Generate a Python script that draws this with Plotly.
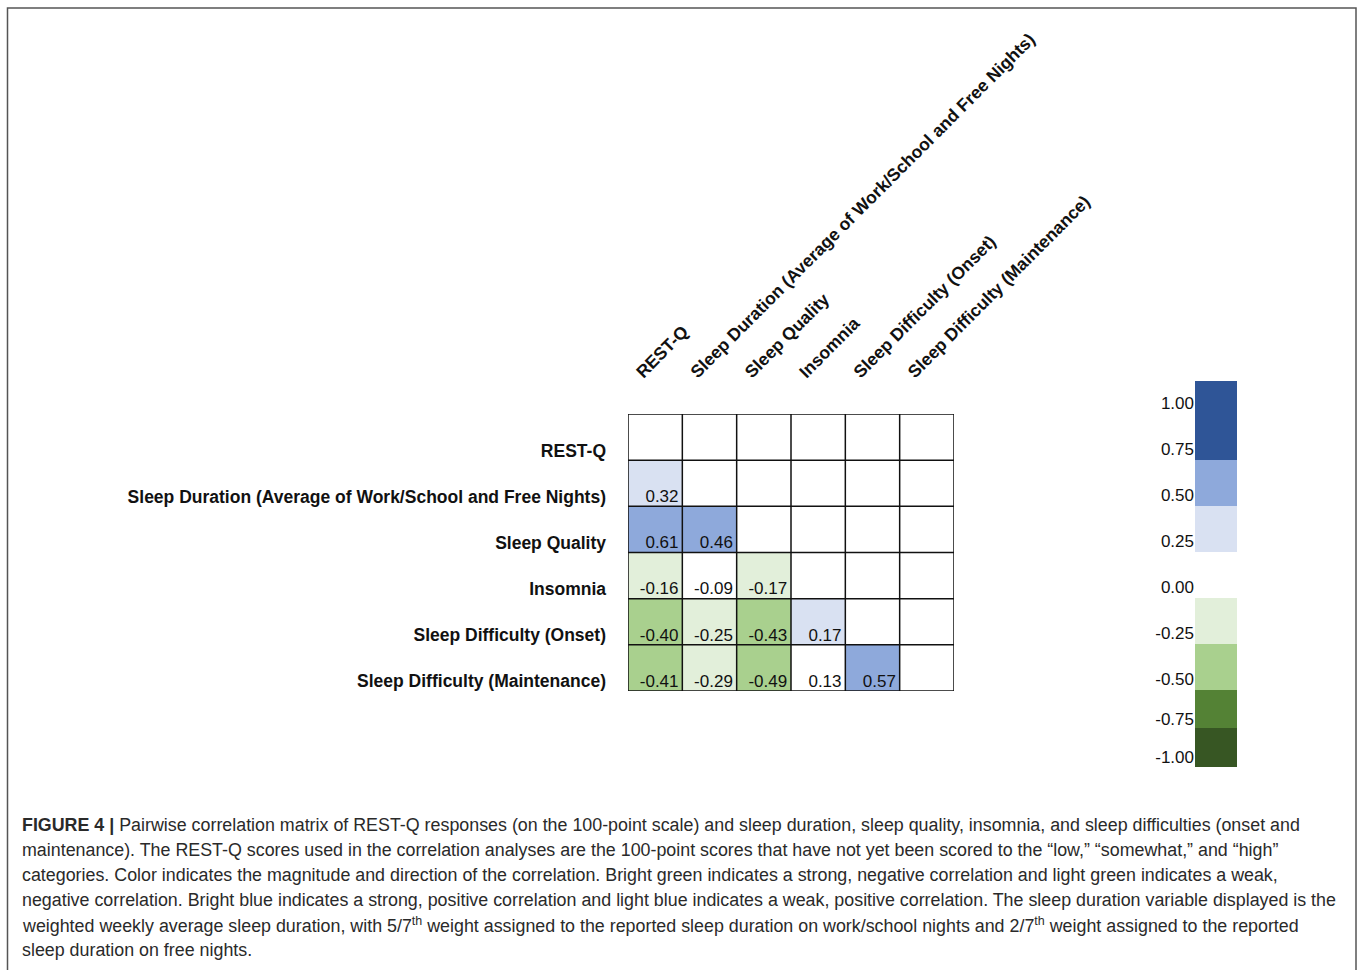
import plotly.graph_objects as go

W, H = 1360, 970

variables = [
    "REST-Q",
    "Sleep Duration (Average of Work/School and Free Nights)",
    "Sleep Quality",
    "Insomnia",
    "Sleep Difficulty (Onset)",
    "Sleep Difficulty (Maintenance)",
]
corr_lower = [
    [],
    [0.32],
    [0.61, 0.46],
    [-0.16, -0.09, -0.17],
    [-0.40, -0.25, -0.43, 0.17],
    [-0.41, -0.29, -0.49, 0.13, 0.57],
]
bin_edges = [-1.0, -0.85, -0.70, -0.35, -0.15, 0.15, 0.40, 0.70, 1.0]
bin_colors = ["#375623", "#548235", "#A9D08E", "#E2EFDA", "#FFFFFF", "#D9E1F2", "#8EA9DB", "#2F5597"]

legend_values = [0.875, 0.55, 0.3, 0.0, -0.25, -0.5, -0.78, -0.93]
legend_edges = [1.12, 0.69, 0.44, 0.19, -0.06, -0.31, -0.56, -0.77, -0.98]
legend_tick_labels = ["1.00", "0.75", "0.50", "0.25", "0.00", "-0.25", "-0.50", "-0.75", "-1.00"]
legend_tick_pos = [1.0, 0.75, 0.5, 0.25, 0.0, -0.25, -0.5, -0.717, -0.924]

caption_lines = [
    "<b>FIGURE 4 |</b> Pairwise correlation matrix of REST-Q responses (on the 100-point scale) and sleep duration, sleep quality, insomnia, and sleep difficulties (onset and",
    "maintenance). The REST-Q scores used in the correlation analyses are the 100-point scores that have not yet been scored to the \u201clow,\u201d \u201csomewhat,\u201d and \u201chigh\u201d",
    "categories. Color indicates the magnitude and direction of the correlation. Bright green indicates a strong, negative correlation and light green indicates a weak,",
    "negative correlation. Bright blue indicates a strong, positive correlation and light blue indicates a weak, positive correlation. The sleep duration variable displayed is the",
    "weighted weekly average sleep duration, with 5/7<sup>th</sup> weight assigned to the reported sleep duration on work/school nights and 2/7<sup>th</sup> weight assigned to the reported",
    "sleep duration on free nights.",
]

# discrete colorscale
cs = []
for k, c in enumerate(bin_colors):
    cs.append([(bin_edges[k] + 1) / 2, c])
    cs.append([(bin_edges[k + 1] + 1) / 2, c])

n = len(variables)
z = [[None] * n for _ in range(n)]
tx, ty, tt = [], [], []
for i, row in enumerate(corr_lower):
    for j, v in enumerate(row):
        z[i][j] = v
        tx.append(j + 0.43)
        ty.append(i + 0.5)
        tt.append(f"{v:.2f}")

def px_x(p):
    return p / W

def px_y(p):
    return 1 - p / H

FONT = "Liberation Sans, Arial, Helvetica, sans-serif"

fig = go.Figure()
fig.add_trace(go.Heatmap(
    z=z, x=list(range(n)), y=list(range(n)),
    colorscale=cs, zmin=-1, zmax=1, showscale=False, hoverongaps=False,
    xaxis="x", yaxis="y",
))
fig.add_trace(go.Scatter(
    x=tx, y=ty, text=tt, mode="text", textposition="top left",
    textfont=dict(size=17, color="#111111", family=FONT),
    xaxis="x", yaxis="y", showlegend=False, hoverinfo="skip",
))
fig.add_trace(go.Heatmap(
    z=[[v] for v in legend_values], x=[0, 1], y=legend_edges,
    colorscale=cs, zmin=-1, zmax=1, showscale=False,
    xaxis="x2", yaxis="y2",
))

shapes = []
for k in range(n + 1):
    shapes.append(dict(type="line", xref="x", yref="y", x0=k - 0.5, x1=k - 0.5, y0=-0.5, y1=n - 0.5,
                       line=dict(color="#111111", width=1.5)))
    shapes.append(dict(type="line", xref="x", yref="y", y0=k - 0.5, y1=k - 0.5, x0=-0.5, x1=n - 0.5,
                       line=dict(color="#111111", width=1.5)))
shapes.append(dict(type="rect", xref="paper", yref="paper", x0=px_x(7.5), x1=px_x(1356), y0=-0.02, y1=px_y(8),
                   line=dict(color="#555555", width=1.5)))

annotations = []
for k, line in enumerate(caption_lines):
    annotations.append(dict(
        xref="paper", yref="paper", x=px_x(20), y=px_y(825 + 25 * k), xanchor="left", yanchor="middle",
        text=line, showarrow=False, align="left",
        font=dict(size=17.85, color="#2a2a2a", family=FONT),
    ))

fig.update_layout(
    width=W, height=H, margin=dict(l=0, r=0, t=0, b=0, autoexpand=False),
    paper_bgcolor="white", plot_bgcolor="white",
    font=dict(family=FONT, color="#111111"),
    showlegend=False,
    xaxis=dict(domain=[px_x(628), px_x(954)], range=[-0.5, n - 0.5], side="top",
               tickvals=[i - 0.33 for i in range(n)], ticktext=[f"<b>{v}</b>" for v in variables],
               tickangle=-45, ticks="", showgrid=False, zeroline=False, showline=False, automargin=False,
               ticklabelstandoff=28,
               tickfont=dict(size=17.5, family=FONT, color="#111111"), anchor="y"),
    yaxis=dict(domain=[px_y(691), px_y(414)], range=[n - 0.5, -0.5],
               tickvals=[i + 0.29 for i in range(n)], ticktext=[f"<b>{v}</b>" for v in variables],
               ticks="", showgrid=False, zeroline=False, showline=False, ticklabelstandoff=21, automargin=False,
               tickfont=dict(size=17.5, family=FONT, color="#111111"), anchor="x"),
    xaxis2=dict(domain=[px_x(1195), px_x(1237)], range=[0, 1], visible=False, anchor="y2", automargin=False),
    yaxis2=dict(domain=[px_y(767), px_y(381)], range=[legend_edges[-1], legend_edges[0]],
                tickvals=legend_tick_pos, ticktext=legend_tick_labels, ticks="", automargin=False,
                showgrid=False, zeroline=False, showline=False, anchor="x2",
                tickfont=dict(size=17, family=FONT, color="#111111")),
    shapes=shapes, annotations=annotations,
)

fig.write_html("out.html")
